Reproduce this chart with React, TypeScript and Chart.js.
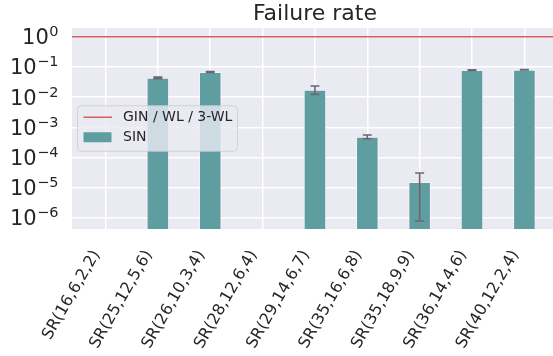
import React, { useEffect, useRef } from 'react';
import { Chart, registerables } from 'chart.js';

Chart.register(...registerables);

// ---- data ----
const categories = [
  'SR(16,6,2,2)',
  'SR(25,12,5,6)',
  'SR(26,10,3,4)',
  'SR(28,12,6,4)',
  'SR(29,14,6,7)',
  'SR(35,16,6,8)',
  'SR(35,18,9,9)',
  'SR(36,14,4,6)',
  'SR(40,12,2,4)',
];
const sinRate: (number | null)[] = [null, 0.044, 0.068, null, 0.0176, 4.9e-4, 1.55e-5, 0.0787, 0.0807];
const sinErrLow: (number | null)[] = [null, 0.041, 0.066, null, 0.0124, 4.2e-4, 7.9e-7, 0.0765, 0.0795];
const sinErrHigh: (number | null)[] = [null, 0.046, 0.071, null, 0.0233, 5.56e-4, 3.07e-5, 0.081, 0.082];
const ginRate = 1;
const yTickValues = [1e-6, 1e-5, 1e-4, 1e-3, 1e-2, 1e-1, 1];
const yMin = 4.3e-7;
const yMax = 1.95;
const xMin = -0.64;
const xMax = 8.64;
const titleText = 'Failure rate';
const ginLabel = 'GIN / WL / 3-WL';
const sinLabel = 'SIN';

const FONT = '"DejaVu Sans", sans-serif';
const TEXT = '#262626';
const BAR = '#5F9EA0';
const RED = '#D65F5F';
const ERR = '#6E6570';

const SUP: Record<string, string> = {
  '0': '⁰', '1': '¹', '2': '²', '3': '³', '4': '⁴', '5': '⁵', '6': '⁶', '7': '⁷', '8': '⁸', '9': '⁹', '-': '⁻',
};
const exponentOf = (v: number) => Math.round(Math.log10(v));
const powLabel = (v: number) =>
  '10' + String(exponentOf(v)).split('').map((c) => SUP[c] ?? c).join('');

const decorPlugin = {
  id: 'decor',
  beforeDraw(chart: any) {
    const { ctx, chartArea: ca } = chart;
    ctx.save();
    ctx.fillStyle = '#EAEAF2';
    ctx.fillRect(ca.left, ca.top, ca.right - ca.left, ca.bottom - ca.top);
    ctx.restore();
  },
  afterDatasetsDraw(chart: any) {
    const { ctx, scales } = chart;
    const xs = scales.x;
    const ys = scales.y;
    ctx.save();
    ctx.strokeStyle = ERR;
    ctx.lineWidth = 1.6;
    for (let i = 0; i < categories.length; i++) {
      const lo = sinErrLow[i];
      const hi = sinErrHigh[i];
      if (lo == null || hi == null) continue;
      const x = xs.getPixelForValue(i);
      const yl = ys.getPixelForValue(lo);
      const yh = ys.getPixelForValue(hi);
      ctx.beginPath();
      ctx.moveTo(x, yl);
      ctx.lineTo(x, yh);
      ctx.moveTo(x - 4.5, yl);
      ctx.lineTo(x + 4.5, yl);
      ctx.moveTo(x - 4.5, yh);
      ctx.lineTo(x + 4.5, yh);
      ctx.stroke();
    }
    ctx.restore();
  },
  afterDraw(chart: any) {
    const { ctx, chartArea: ca, scales } = chart;
    ctx.save();

    // y tick labels, drawn as 10 with a raised exponent (math-text style)
    const ys = scales.y;
    ctx.fillStyle = TEXT;
    ctx.textBaseline = 'alphabetic';
    ctx.textAlign = 'left';
    const rightEdge = ca.left - 14;
    for (const t of ys.ticks) {
      const py = ys.getPixelForValue(t.value);
      const e = exponentOf(t.value);
      const expStr = (e < 0 ? '\u2212' : '') + String(Math.abs(e));
      ctx.font = `14.5px ${FONT}`;
      const we = ctx.measureText(expStr).width;
      ctx.font = `21px ${FONT}`;
      const wb = ctx.measureText('10').width;
      const x0 = rightEdge - we - wb;
      const base = py + 7.5;
      ctx.fillText('10', x0, base);
      ctx.font = `14.5px ${FONT}`;
      ctx.fillText(expStr, x0 + wb + 0.5, base - 8);
    }

    // title
    ctx.fillStyle = TEXT;
    ctx.font = `22px ${FONT}`;
    ctx.textAlign = 'center';
    ctx.textBaseline = 'alphabetic';
    ctx.fillText(titleText, (ca.left + ca.right) / 2, 19.5);

    // legend (center left)
    const w = 160;
    const h = 45.5;
    const lx = ca.left + 5.5;
    const cy = (ca.top + ca.bottom) / 2;
    const ly = cy - h / 2;
    ctx.beginPath();
    if ((ctx as any).roundRect) (ctx as any).roundRect(lx, ly, w, h, 4);
    else ctx.rect(lx, ly, w, h);
    ctx.fillStyle = 'rgba(234,234,242,0.8)';
    ctx.fill();
    ctx.strokeStyle = 'rgba(204,204,204,0.8)';
    ctx.lineWidth = 1;
    ctx.stroke();

    const row1 = ly + 11.5;
    const row2 = ly + 31.5;
    ctx.strokeStyle = RED;
    ctx.lineWidth = 1.5;
    ctx.beginPath();
    ctx.moveTo(lx + 6, row1);
    ctx.lineTo(lx + 34.5, row1);
    ctx.stroke();
    ctx.fillStyle = BAR;
    ctx.fillRect(lx + 6, row2 - 5, 28, 10);

    ctx.fillStyle = TEXT;
    ctx.font = `14px ${FONT}`;
    ctx.textAlign = 'left';
    ctx.textBaseline = 'middle';
    ctx.fillText(ginLabel, lx + 45.5, row1 + 0.5);
    ctx.fillText(sinLabel, lx + 45.5, row2 + 0.5);
    ctx.restore();
  },
};

export default function App() {
  const ref = useRef<HTMLCanvasElement | null>(null);

  useEffect(() => {
    if (!ref.current) return;
    const chart = new Chart(ref.current, {
      type: 'bar',
      data: {
        datasets: [
          {
            type: 'line',
            label: ginLabel,
            data: [
              { x: xMin, y: ginRate },
              { x: xMax, y: ginRate },
            ],
            borderColor: RED,
            borderWidth: 1.5,
            pointRadius: 0,
            fill: false,
          } as any,
          {
            type: 'bar',
            label: sinLabel,
            data: categories.map((_, i) => ({ x: i, y: sinRate[i] })) as any,
            backgroundColor: BAR,
            borderColor: 'rgba(255,255,255,0.45)',
            borderWidth: 1,
            categoryPercentage: 1,
            barPercentage: 0.43,
          } as any,
        ],
      },
      options: {
        responsive: false,
        animation: false,
        devicePixelRatio: 1,
        layout: { padding: { top: 28, left: 0, right: 0, bottom: 0 } },
        plugins: {
          legend: { display: false },
          title: { display: false },
          tooltip: { enabled: false },
        },
        scales: {
          x: {
            type: 'linear',
            min: xMin,
            max: xMax,
            offset: false,
            afterBuildTicks: (axis: any) => {
              axis.ticks = categories.map((_, i) => ({ value: i }));
            },
            afterFit: (axis: any) => {
              axis.height = 127;
            },
            grid: { color: '#FFFFFF', lineWidth: 1.5, drawTicks: false, offset: false },
            border: { display: false },
            ticks: {
              autoSkip: false,
              minRotation: 60,
              maxRotation: 60,
              padding: 18,
              labelOffset: -9,
              color: TEXT,
              font: { family: FONT, size: 16 },
              callback: (v: any) => categories[Math.round(Number(v))] ?? '',
            },
          },
          y: {
            type: 'logarithmic',
            min: yMin,
            max: yMax,
            afterBuildTicks: (axis: any) => {
              axis.ticks = yTickValues.map((v) => ({ value: v }));
            },
            afterFit: (axis: any) => {
              axis.width = 72;
            },
            grid: { color: '#FFFFFF', lineWidth: 1.5, drawTicks: false },
            border: { display: false },
            ticks: {
              padding: 15,
              // drawn by the decor plugin in math-text style; kept here as the axis's tick text
              color: 'rgba(0,0,0,0)',
              font: { family: FONT, size: 21 },
              callback: (v: any) => powLabel(Number(v)),
            },
          },
        },
      } as any,
      plugins: [decorPlugin],
    });
    return () => chart.destroy();
  }, []);

  return (
    <div style={{ position: 'fixed', left: 0, top: 0, width: 553, height: 356, overflow: 'hidden', background: '#fff' }}>
      <canvas ref={ref} width={559} height={356} style={{ display: 'block', width: 559, height: 356 }} />
    </div>
  );
}
